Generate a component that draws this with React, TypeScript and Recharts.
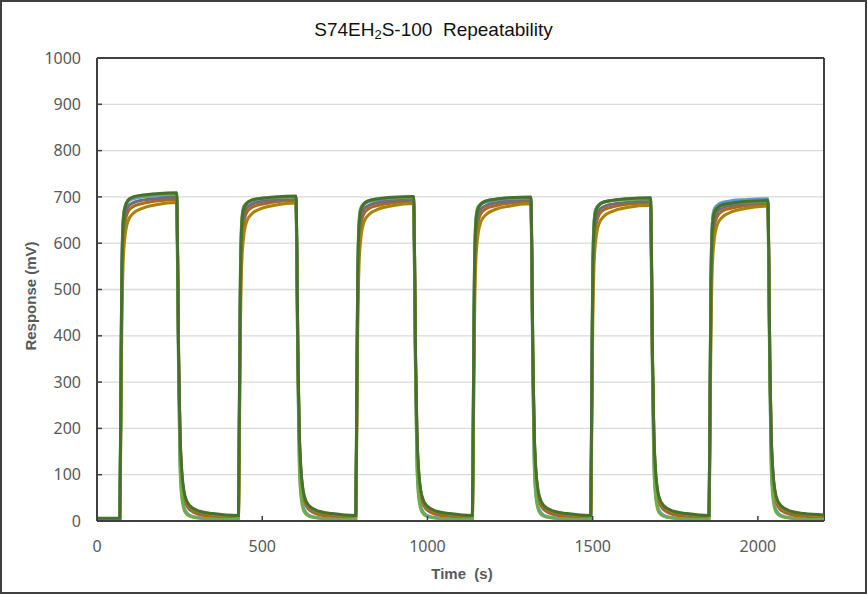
import { CartesianGrid, Line, LineChart, ReferenceLine, XAxis, YAxis } from 'recharts'

// sample times (s)
const time = [
  0, 68,
  69, 72, 75, 79, 84, 94, 109, 139, 179, 241, 244, 247, 251, 256, 266, 281, 311, 351, 427,
  428, 431, 434, 438, 443, 453, 468, 498, 538, 602, 605, 608, 612, 617, 627, 642, 672, 712, 782,
  783, 786, 789, 793, 798, 808, 823, 853, 893, 958, 961, 964, 968, 973, 983, 998, 1028, 1068, 1135,
  1136, 1139, 1142, 1146, 1151, 1161, 1176, 1206, 1246, 1313, 1316, 1319, 1323, 1328, 1338, 1353, 1383, 1423, 1493,
  1494, 1497, 1500, 1504, 1509, 1519, 1534, 1564, 1604, 1675, 1678, 1681, 1685, 1690, 1700, 1715, 1745, 1785, 1851,
  1852, 1855, 1858, 1862, 1867, 1877, 1892, 1922, 1962, 2030, 2033, 2036, 2040, 2045, 2055, 2070, 2100, 2140, 2200,
]

// responses (mV), one array per run
const runLightBlue = [
  3, 3,
  3, 270, 530, 645, 675, 690, 696, 700, 702, 704, 530, 320, 135, 62, 25, 12, 7, 5, 4,
  4, 270, 530, 644, 674, 685, 691, 695, 697, 699, 530, 320, 135, 62, 25, 12, 7, 5, 4,
  4, 268, 528, 642, 673, 684, 690, 694, 696, 698, 528, 318, 134, 61, 25, 12, 7, 5, 4,
  4, 268, 528, 642, 672, 683, 689, 693, 695, 697, 528, 318, 134, 61, 25, 12, 7, 5, 4,
  4, 268, 528, 642, 672, 683, 689, 693, 695, 697, 526, 316, 133, 61, 24, 12, 7, 5, 4,
  4, 268, 528, 642, 672, 682, 688, 692, 694, 696, 526, 316, 133, 61, 24, 12, 7, 5, 4,
]
const runOrange = [
  4, 4,
  4, 220, 480, 600, 640, 668, 679, 686, 691, 694, 560, 340, 180, 95, 44, 24, 14, 10, 7,
  7, 220, 480, 599, 639, 666, 677, 684, 689, 692, 560, 340, 180, 95, 44, 24, 14, 10, 7,
  7, 218, 478, 598, 638, 664, 675, 682, 687, 690, 558, 338, 179, 94, 44, 24, 14, 10, 7,
  7, 218, 478, 597, 637, 663, 674, 681, 686, 689, 558, 338, 179, 94, 44, 24, 14, 10, 7,
  7, 216, 476, 596, 635, 661, 672, 679, 684, 687, 556, 336, 178, 94, 43, 24, 14, 10, 7,
  7, 215, 474, 594, 633, 658, 669, 676, 681, 684, 554, 334, 177, 93, 43, 23, 14, 10, 7,
]
const runGray = [
  5, 5,
  5, 240, 500, 615, 655, 679, 687, 693, 696, 699, 570, 350, 190, 105, 50, 28, 18, 13, 10,
  10, 240, 500, 614, 653, 676, 684, 690, 693, 696, 570, 350, 190, 105, 50, 28, 18, 13, 10,
  10, 238, 498, 612, 651, 674, 682, 688, 691, 694, 568, 348, 189, 104, 50, 28, 18, 13, 10,
  10, 238, 498, 612, 650, 673, 681, 687, 690, 693, 568, 348, 189, 104, 50, 28, 18, 13, 10,
  10, 236, 496, 610, 648, 671, 679, 685, 688, 691, 566, 346, 188, 103, 49, 28, 18, 13, 10,
  10, 234, 494, 608, 646, 668, 676, 682, 685, 688, 564, 344, 187, 103, 49, 28, 18, 13, 10,
]
const runGold = [
  5, 5,
  5, 180, 410, 555, 610, 648, 664, 676, 683, 688, 575, 355, 195, 110, 52, 30, 19, 14, 10,
  10, 180, 410, 554, 609, 647, 663, 675, 682, 687, 575, 355, 195, 110, 52, 30, 19, 14, 10,
  10, 178, 408, 552, 607, 646, 662, 674, 681, 686, 573, 353, 194, 109, 52, 30, 19, 14, 10,
  10, 178, 408, 552, 606, 645, 661, 673, 680, 685, 573, 353, 194, 109, 52, 30, 19, 14, 10,
  10, 176, 406, 550, 604, 642, 658, 670, 677, 682, 571, 351, 193, 108, 51, 30, 19, 14, 10,
  10, 175, 404, 548, 602, 640, 656, 668, 675, 680, 569, 349, 192, 108, 51, 29, 19, 14, 10,
]
const runLightGreen = [
  3, 3,
  3, 275, 540, 650, 678, 693, 699, 703, 705, 706, 520, 310, 125, 55, 20, 10, 6, 4, 3,
  3, 275, 540, 649, 677, 687, 693, 697, 699, 700, 520, 310, 125, 55, 20, 10, 6, 4, 3,
  3, 274, 538, 648, 676, 686, 692, 696, 698, 699, 518, 308, 124, 54, 20, 10, 6, 4, 3,
  3, 274, 538, 648, 675, 685, 691, 695, 697, 698, 518, 308, 124, 54, 20, 10, 6, 4, 3,
  3, 272, 536, 646, 673, 683, 689, 693, 695, 696, 516, 306, 123, 54, 19, 10, 6, 4, 3,
  3, 270, 534, 644, 668, 677, 683, 687, 689, 690, 514, 304, 122, 53, 19, 10, 6, 4, 3,
]
const runDarkGreen = [
  6, 6,
  6, 260, 520, 640, 675, 693, 700, 704, 707, 709, 580, 360, 200, 115, 55, 33, 21, 16, 12,
  12, 260, 520, 638, 672, 686, 693, 697, 700, 702, 580, 360, 200, 115, 55, 33, 21, 16, 12,
  12, 258, 518, 636, 671, 685, 692, 696, 699, 701, 578, 358, 198, 114, 55, 33, 21, 16, 12,
  12, 258, 518, 636, 670, 684, 691, 695, 698, 700, 578, 358, 198, 114, 55, 33, 21, 16, 12,
  12, 256, 516, 634, 668, 682, 689, 693, 696, 698, 576, 356, 196, 113, 54, 33, 21, 16, 12,
  12, 254, 512, 630, 664, 676, 683, 687, 690, 692, 572, 352, 194, 112, 54, 33, 21, 16, 13,
]

const xTicks = [0, 500, 1000, 1500, 2000]
const yTicks = [0, 100, 200, 300, 400, 500, 600, 700, 800, 900, 1000]

const runs = [
  { key: 'lb', values: runLightBlue, color: '#5b9bd5' },
  { key: 'or', values: runOrange, color: '#b8650f' },
  { key: 'gr', values: runGray, color: '#6e6e78' },
  { key: 'gd', values: runGold, color: '#a8820a' },
  { key: 'lg', values: runLightGreen, color: '#70ad47' },
  { key: 'dg', values: runDarkGreen, color: '#46702c' },
]

const data = time.map((t, i) => {
  const row: Record<string, number> = { t }
  runs.forEach((r) => (row[r.key] = r.values[i]))
  return row
})

const AXIS = '#404040'
const TICK_TEXT = '#595959'
const Y_MARGIN = 16
const X_MARGIN = 20

function YTick({ x, y, payload }: any) {
  return (
    <g>
      {payload.value > 0 && payload.value < 1000 && (
        <line x1={x + Y_MARGIN} x2={x + Y_MARGIN + 5} y1={y} y2={y} stroke={AXIS} strokeWidth={1.5} />
      )}
      <text x={x} y={y} dy="0.35em" textAnchor="end" fill={TICK_TEXT} fontSize={16} fontFamily="Noto Sans">
        {payload.value}
      </text>
    </g>
  )
}

function XTick({ x, y, payload }: any) {
  return (
    <g>
      {payload.value > 0 && (
        <line x1={x} x2={x} y1={y - X_MARGIN} y2={y - X_MARGIN - 5} stroke={AXIS} strokeWidth={1.5} />
      )}
      <text x={x} y={y} dy="0.71em" textAnchor="middle" fill={TICK_TEXT} fontSize={16} fontFamily="Noto Sans">
        {payload.value}
      </text>
    </g>
  )
}

export default function App() {
  return (
    <div
      style={{
        position: 'absolute',
        left: 0,
        top: 0,
        width: 867,
        height: 594,
        background: '#fff',
        boxSizing: 'border-box',
        border: '2px solid #3f3f3f',
        overflow: 'hidden',
      }}
    >
      <div
        style={{
          position: 'absolute',
          left: 0,
          top: 17,
          width: 863,
          textAlign: 'center',
          fontFamily: '"Liberation Sans", Arial, sans-serif',
          fontSize: 19,
          color: '#111',
          whiteSpace: 'pre',
        }}
      >
        S74EH<sub style={{ fontSize: 13, verticalAlign: '-0.25em' }}>2</sub>S-100  Repeatability
      </div>
      <LineChart
        width={863}
        height={590}
        data={data}
        margin={{ top: 56, right: 41, bottom: 19, left: 35 }}
        style={{ position: 'absolute', left: 0, top: 0 }}
      >
        <CartesianGrid vertical={false} stroke="#d9d9d9" strokeWidth={1.3} />
        <XAxis
          dataKey="t"
          type="number"
          domain={[0, 2200]}
          ticks={xTicks}
          height={52}
          tickSize={0}
          tickMargin={X_MARGIN}
          tick={<XTick />}
          axisLine={{ stroke: AXIS, strokeWidth: 2 }}
          tickLine={false}
        />
        <YAxis
          type="number"
          domain={[0, 1000]}
          ticks={yTicks}
          width={60}
          tickSize={0}
          tickMargin={Y_MARGIN}
          tick={<YTick />}
          axisLine={{ stroke: AXIS, strokeWidth: 2 }}
          tickLine={false}
        />
        <ReferenceLine y={1000} stroke={AXIS} strokeWidth={2} />
        <ReferenceLine x={2200} stroke={AXIS} strokeWidth={2} />
        {runs.map((r) => (
          <Line
            key={r.key}
            dataKey={r.key}
            type="monotone"
            stroke={r.color}
            strokeWidth={3}
            dot={false}
            activeDot={false}
            isAnimationActive={false}
          />
        ))}
      </LineChart>
      <div
        style={{
          position: 'absolute',
          left: 0,
          top: 563,
          width: 920,
          textAlign: 'center',
          fontFamily: '"Liberation Sans", Arial, sans-serif',
          fontWeight: 'bold',
          fontSize: 15,
          color: TICK_TEXT,
          whiteSpace: 'pre',
        }}
      >
        Time  (s)
      </div>
      <div
        style={{
          position: 'absolute',
          left: 28,
          top: 294,
          transform: 'translate(-50%, -50%) rotate(-90deg)',
          fontFamily: '"Liberation Sans", Arial, sans-serif',
          fontWeight: 'bold',
          fontSize: 15,
          color: TICK_TEXT,
          whiteSpace: 'pre',
        }}
      >
        Response (mV)
      </div>
    </div>
  )
}
